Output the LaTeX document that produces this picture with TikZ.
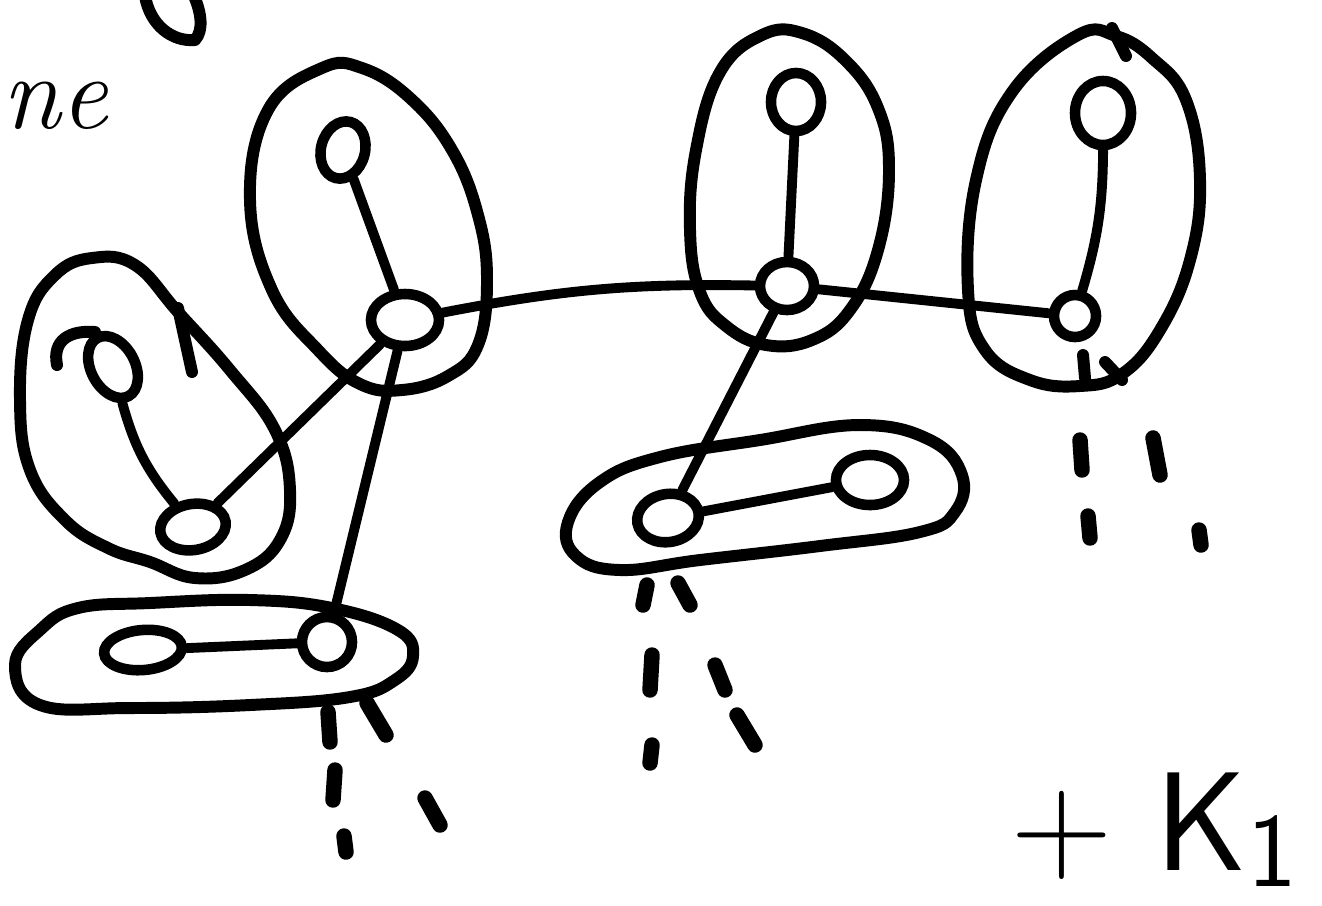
\documentclass[tikz,border=0pt]{standalone}
\usepackage{tikz}
\usetikzlibrary{shapes.geometric,calc}

\tikzset{
  vtx/.style={draw,ellipse,line width=3pt,inner sep=0pt},
  blob/.style={line width=3.4pt,line join=round,line cap=round},
  edge/.style={line width=2.8pt,line cap=round},
  tick/.style={line width=4.4pt,line cap=round}
}

\begin{document}
\begin{tikzpicture}[x=0.01cm,y=-0.01cm]
\useasboundingbox (0,0) rectangle (1322,905);
\clip (0,0) rectangle (1322,905);
% scribbled text
\node[anchor=base west,inner sep=0pt,font=\fontsize{30}{32}\selectfont\itshape] (word) at (2,128) {ne};
\draw[blob] (145,-4) .. controls (150,25) and (172,42) .. (195,40) .. controls (204,30) and (201,12) .. (194,-4);
\node[anchor=base west,inner sep=0pt,font=\sffamily\fontsize{40}{44}\selectfont] (kone) at (1010,870) {+\hspace{.3em}K\raisebox{-.12em}{\fontsize{30}{32}\selectfont 1}};
% vertices
\node[vtx,minimum width=0.44cm,minimum height=0.66cm,rotate=28] (la) at (113,367) {};
\node[vtx,minimum width=0.66cm,minimum height=0.46cm,rotate=10] (lb) at (193,527) {};
\node[vtx,minimum width=0.44cm,minimum height=0.58cm,rotate=-15] (ta) at (343,150) {};
\node[vtx,minimum width=0.68cm,minimum height=0.52cm] (hubl) at (405,320) {};
\node[vtx,minimum width=0.78cm,minimum height=0.40cm,rotate=5] (ba) at (143,650) {};
\node[vtx,minimum width=0.50cm,minimum height=0.50cm] (bb) at (327,642) {};
\node[vtx,minimum width=0.50cm,minimum height=0.58cm] (ma) at (796,102) {};
\node[vtx,minimum width=0.54cm,minimum height=0.48cm] (hubr) at (787,286) {};
\node[vtx,minimum width=0.56cm,minimum height=0.64cm] (ra) at (1103,113) {};
\node[vtx,minimum width=0.42cm,minimum height=0.42cm] (rb) at (1075,316) {};
\node[vtx,minimum width=0.62cm,minimum height=0.48cm,rotate=10] (sa) at (668,518) {};
\node[vtx,minimum width=0.68cm,minimum height=0.50cm] (sb) at (870,480) {};
% groups
\draw[blob] plot[smooth cycle,tension=0.7] coordinates {(178,312) (230,370) (275,430) (290,490) (280,540) (245,570) (195,578) (150,562) (108,548) (65,520) (30,470) (20,400) (28,320) (55,275) (92,258) (135,265)};
\draw[blob] (178,308) -- (192,372);
\draw[blob] (57,365) .. controls (52,340) and (70,330) .. (95,332);
\draw[blob] plot[smooth cycle,tension=0.7] coordinates {(322,68) (268,110) (250,200) (272,290) (318,350) (360,384) (402,390) (448,376) (478,345) (487,280) (478,215) (452,150) (410,98) (362,68)};
\draw[blob] plot[smooth cycle,tension=0.7] coordinates {(15,665) (40,630) (78,608) (150,603) (250,600) (332,608) (398,630) (413,656) (395,680) (350,697) (250,705) (130,708) (40,705)};
\draw[blob] plot[smooth cycle,tension=0.7] coordinates {(762,35) (720,72) (696,150) (690,230) (700,292) (726,326) (766,345) (812,340) (850,310) (878,250) (889,170) (878,108) (845,60) (802,33)};
\draw[blob] plot[smooth cycle,tension=0.7] coordinates {(1078,35) (1012,92) (976,180) (968,290) (985,350) (1030,380) (1080,386) (1122,374) (1160,330) (1190,260) (1200,180) (1186,100) (1152,58) (1116,36)};
\draw[blob] (1112,28) -- (1126,56);
\draw[blob] (1083,355) -- (1085,378) (1105,362) -- (1122,380);
\draw[blob] plot[smooth cycle,tension=0.7] coordinates {(568,522) (600,482) (660,457) (760,440) (860,425) (930,440) (962,475) (955,512) (920,532) (820,546) (700,560) (620,570) (576,556)};
% connections
\draw[edge] (la) to[bend right=12] (lb);
\draw[edge] (lb) -- (hubl);
\draw[edge] (ta) -- (hubl);
\draw[edge] (hubl) -- (bb);
\draw[edge] (ba) -- (bb);
\draw[edge] (hubl) to[bend left=6] (hubr);
\draw[edge] (ma) -- (hubr);
\draw[edge] (hubr) -- (rb);
\draw[edge] (ra) to[bend left=8] (rb);
\draw[edge] (hubr) -- (sa);
\draw[edge] (sa) -- (sb);
% trailing dots
\foreach \xa/\ya/\xb/\yb in {328/712/330/742, 335/770/333/800, 344/836/346/852, 367/703/386/735, 425/798/440/825,
  647/585/643/605, 652/655/650/690, 652/745/650/763, 678/583/690/605, 715/665/725/690, 737/715/755/745,
  1080/440/1082/470, 1088/516/1090/538, 1153/438/1160/475, 1199/530/1201/545}
  \draw[tick] (\xa,\ya)--(\xb,\yb);
\end{tikzpicture}
\end{document}
